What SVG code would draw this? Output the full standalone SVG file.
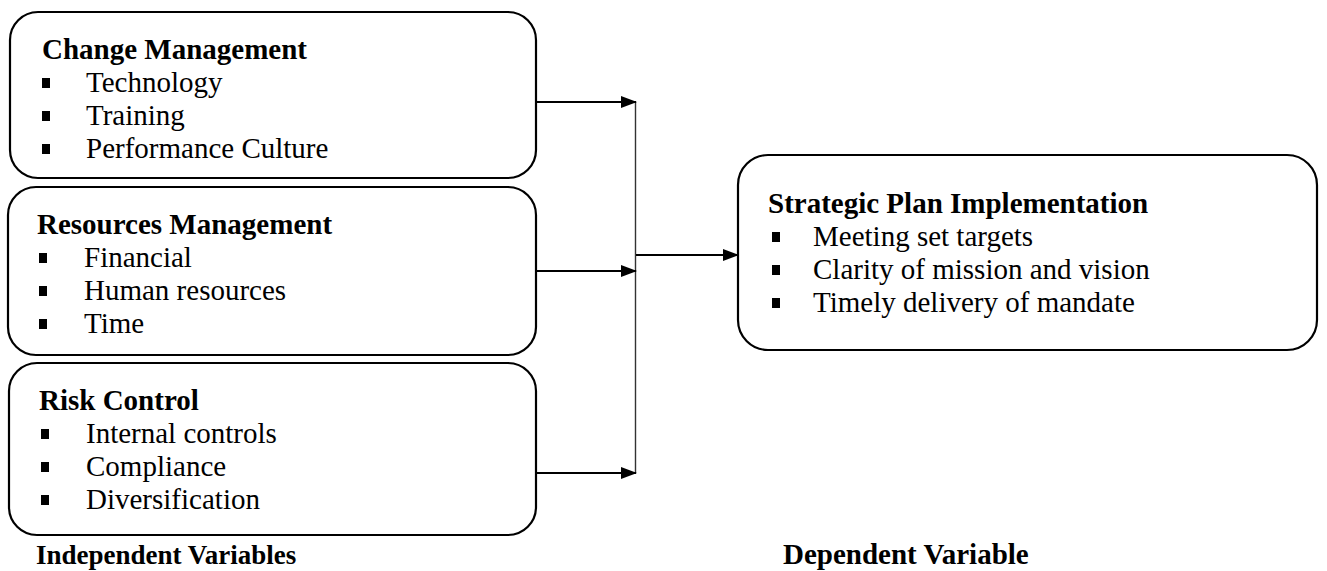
<svg xmlns="http://www.w3.org/2000/svg" width="1327" height="571" viewBox="0 0 1327 571">
<style>
.box{fill:#fff;stroke:#000;stroke-width:2.2}
.t{font-family:"Liberation Serif","Times New Roman",serif;font-size:29px;fill:#000}
.b{font-weight:bold}
.blt{fill:#000}
.con{stroke:#000;stroke-width:2.2;fill:none}
.trunk{stroke:#333;stroke-width:1.4;fill:none}
</style>
<defs>
<marker id="arr" markerWidth="16" markerHeight="12" refX="15" refY="6" orient="auto" markerUnits="userSpaceOnUse">
<path d="M0,0 L16,6 L0,12 Z" fill="#000"/>
</marker>
</defs>
<g id="change-management">
<rect class="box" x="10" y="12" width="526" height="166" rx="28"/>
<text class="t b" x="42" y="59">Change Management</text>
<rect class="blt" x="42" y="78" width="8" height="10"/>
<text class="t" x="86" y="92">Technology</text>
<rect class="blt" x="42" y="111" width="8" height="10"/>
<text class="t" x="86" y="125">Training</text>
<rect class="blt" x="42" y="144" width="8" height="10"/>
<text class="t" x="86" y="158">Performance Culture</text>
</g>
<g id="resources-management">
<rect class="box" x="8" y="187" width="528" height="168" rx="28"/>
<text class="t b" x="37" y="234">Resources Management</text>
<rect class="blt" x="39" y="253" width="8" height="10"/>
<text class="t" x="84" y="267">Financial</text>
<rect class="blt" x="39" y="286" width="8" height="10"/>
<text class="t" x="84" y="300">Human resources</text>
<rect class="blt" x="39" y="319" width="8" height="10"/>
<text class="t" x="84" y="333">Time</text>
</g>
<g id="risk-control">
<rect class="box" x="9" y="363" width="527" height="172" rx="28"/>
<text class="t b" x="39" y="410">Risk Control</text>
<rect class="blt" x="41" y="429" width="8" height="10"/>
<text class="t" x="86" y="443">Internal controls</text>
<rect class="blt" x="41" y="462" width="8" height="10"/>
<text class="t" x="86" y="476">Compliance</text>
<rect class="blt" x="41" y="495" width="8" height="10"/>
<text class="t" x="86" y="509">Diversification</text>
</g>
<g id="strategic-plan-implementation">
<rect class="box" x="738" y="155" width="579" height="195" rx="30"/>
<text class="t b" x="768" y="213">Strategic Plan Implementation</text>
<rect class="blt" x="772" y="232" width="8" height="10"/>
<text class="t" x="813" y="246">Meeting set targets</text>
<rect class="blt" x="772" y="265" width="8" height="10"/>
<text class="t" x="813" y="279">Clarity of mission and vision</text>
<rect class="blt" x="772" y="298" width="8" height="10"/>
<text class="t" x="813" y="312">Timely delivery of mandate</text>
</g>
<g id="labels">
<text class="t b" x="36" y="564" style="font-size:27px">Independent Variables</text>
<text class="t b" x="783" y="564">Dependent Variable</text>
</g>
<g id="connectors">
<line class="trunk" x1="635.5" y1="102" x2="635.5" y2="473"/>
<line class="con" x1="536" y1="102" x2="636" y2="102" marker-end="url(#arr)"/>
<line class="con" x1="536" y1="271" x2="636" y2="271" marker-end="url(#arr)"/>
<line class="con" x1="536" y1="473" x2="636" y2="473" marker-end="url(#arr)"/>
<line class="con" x1="636" y1="255" x2="738" y2="255" marker-end="url(#arr)"/>
</g>
</svg>
